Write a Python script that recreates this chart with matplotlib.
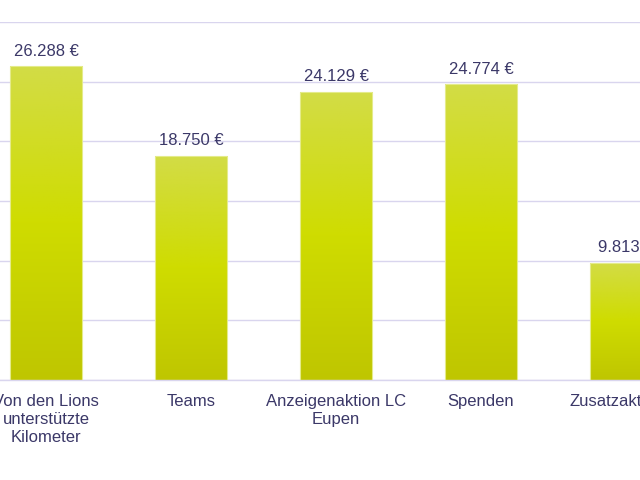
import numpy as np
import matplotlib
matplotlib.use("Agg")
import matplotlib.pyplot as plt
from matplotlib.colors import LinearSegmentedColormap

# Daten
kategorien = ["Von den Lions\nunterstützte\nKilometer", "Teams", "Anzeigenaktion LC\nEupen",
              "Spenden", "Zusatzaktionen"]
werte = [26288, 18750, 24129, 24774, 9813]
beschriftung = ["26.288 €", "18.750 €", "24.129 €", "24.774 €", "9.813 €"]

TEXT = "#3b3868"
GRID = "#d9d5ee"

plt.rcParams["font.family"] = ["Liberation Sans", "DejaVu Sans"]

fig = plt.figure(figsize=(6.4, 4.8), dpi=100)
# Achse reicht links und rechts ueber den Bildrand hinaus (Ausschnitt)
ax = fig.add_axes([0.0, 1 - 380 / 480, 1.0, (380 - 22) / 480])

x = np.arange(len(werte))
breite = 0.5

verlauf = LinearSegmentedColormap.from_list(
    "gruen", ["#bfc600", "#cfdc00", "#d3dc46"])
grad = np.linspace(0, 1, 256).reshape(-1, 1)

for xi, wert, txt in zip(x, werte, beschriftung):
    balken = ax.bar(xi, wert, width=breite, color="none",
                    edgecolor="#e4eb8a", linewidth=0.8, zorder=3)[0]
    im = ax.imshow(grad, cmap=verlauf, aspect="auto", origin="lower",
                   extent=[xi - breite / 2, xi + breite / 2, 0, wert], zorder=2)
    im.set_clip_path(balken)
    ax.text(xi, wert + 650, txt, ha="center", va="bottom",
            fontsize=12, color=TEXT, clip_on=False)

ax.set_xlim(-46 / 145, (640 - 46) / 145)
ax.set_ylim(0, 30000)
ax.set_yticks(np.arange(0, 30001, 5000))
ax.set_yticklabels([])
ax.tick_params(axis="y", length=0)
ax.tick_params(axis="x", length=0, pad=10)
ax.set_xticks(x)
ax.set_xticklabels(kategorien, fontsize=12, color=TEXT, linespacing=1.25)

ax.grid(axis="y", color=GRID, linewidth=1, zorder=0)
ax.set_axisbelow(True)
for s in ["top", "right", "left"]:
    ax.spines[s].set_visible(False)
ax.spines["bottom"].set_color(GRID)
ax.spines["bottom"].set_linewidth(1)

fig.savefig("out.png", dpi=100)
